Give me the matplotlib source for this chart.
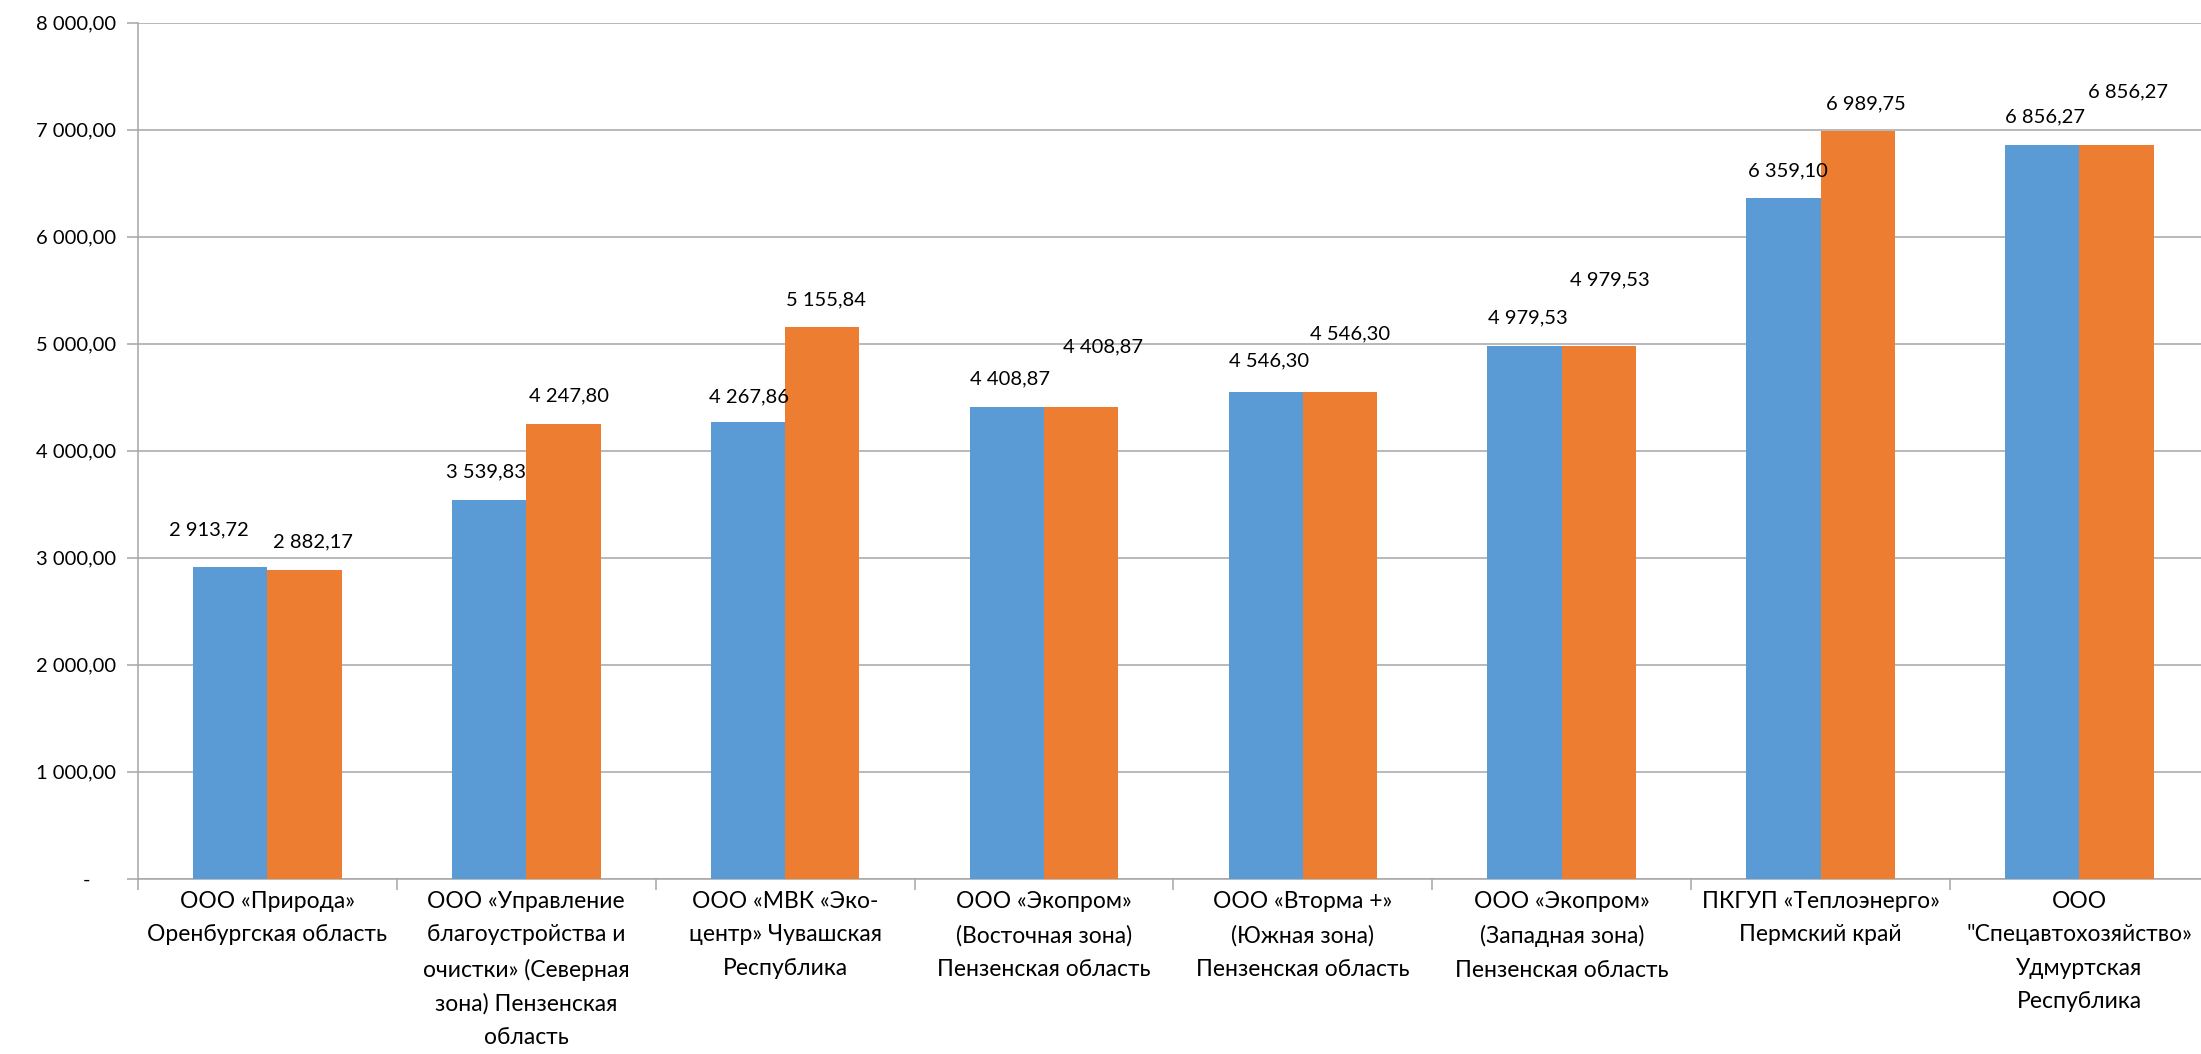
import matplotlib
matplotlib.use("Agg")
import numpy as np
import matplotlib.pyplot as plt
from matplotlib.ticker import FuncFormatter, FixedLocator

categories = [
    "ООО «Природа»\nОренбургская область",
    "ООО «Управление\nблагоустройства и\nочистки» (Северная\nзона) Пензенская\nобласть",
    "ООО «МВК «Эко-\nцентр» Чувашская\nРеспублика",
    "ООО «Экопром»\n(Восточная зона)\nПензенская область",
    "ООО «Вторма +»\n(Южная зона)\nПензенская область",
    "ООО «Экопром»\n(Западная зона)\nПензенская область",
    "ПКГУП «Теплоэнерго»\nПермский край",
    "ООО\n\"Спецавтохозяйство»\nУдмуртская\nРеспублика",
]
series_blue = [2913.72, 3539.83, 4267.86, 4408.87, 4546.30, 4979.53, 6359.10, 6856.27]
series_orange = [2882.17, 4247.80, 5155.84, 4408.87, 4546.30, 4979.53, 6989.75, 6856.27]

# label offsets in pixels (dx, dy) from bar top centre, as placed in the original
blue_off = [(-21, 37), (-3, 28), (1, 25), (3, 28), (3, 31), (3, 28), (4, 27), (3, 28)]
orange_off = [(8, 28), (6, 28), (4, 27), (22, 60), (10, 58), (11, 66), (8, 27), (11, 53)]

BLUE = "#5B9BD5"
ORANGE = "#ED7D31"
GRID = "#A6A6A6"

plt.rcParams['font.family'] = ['Lato', 'DejaVu Sans']
FS = 14.5
FS_CAT = 16.5


def fmt(v):
    s = f"{v:,.2f}"
    return s.replace(",", " ").replace(".", ",")


def yfmt(v, pos):
    if abs(v) < 1e-9:
        return "-     "
    return fmt(v)


fig = plt.figure(figsize=(22.01, 10.54), dpi=100)
ax = fig.add_axes([0.0627, 0.1663, 1.0036 - 0.0627, 0.9785 - 0.1663])

x = np.arange(len(categories))
w = 0.287
bb = ax.bar(x - w / 2, series_blue, w, color=BLUE, zorder=3)
bo = ax.bar(x + w / 2, series_orange, w, color=ORANGE, zorder=3)

for rects, vals, offs in [(bb, series_blue, blue_off), (bo, series_orange, orange_off)]:
    for r, v, (dx, dy) in zip(rects, vals, offs):
        ax.annotate(fmt(v), (r.get_x() + r.get_width() / 2, v),
                    xytext=(dx, dy), textcoords='offset pixels',
                    ha='center', va='center', fontsize=FS, color='black', zorder=4)

ax.set_xlim(-0.5, len(categories) - 0.5)
ax.set_ylim(0, 8000)
ax.set_yticks(np.arange(0, 8001, 1000))
ax.yaxis.set_major_formatter(FuncFormatter(yfmt))
ax.yaxis.grid(True, color=GRID, lw=1.1, zorder=0)

ax.set_xticks(x)
ax.set_xticklabels(categories, fontsize=FS_CAT, linespacing=1.72, va='top')
ax.xaxis.set_minor_locator(FixedLocator(np.arange(-0.5, len(categories), 1.0)))
ax.tick_params(axis='x', which='major', length=0, pad=9)
ax.tick_params(axis='x', which='minor', length=8, color=GRID, width=1.1)
ax.tick_params(axis='y', length=8, color=GRID, width=1.1, labelsize=FS, pad=8)

for s in ['top', 'right']:
    ax.spines[s].set_visible(False)
for s in ['left', 'bottom']:
    ax.spines[s].set_color(GRID)
    ax.spines[s].set_linewidth(1.1)

fig.savefig("out.png", dpi=100)
